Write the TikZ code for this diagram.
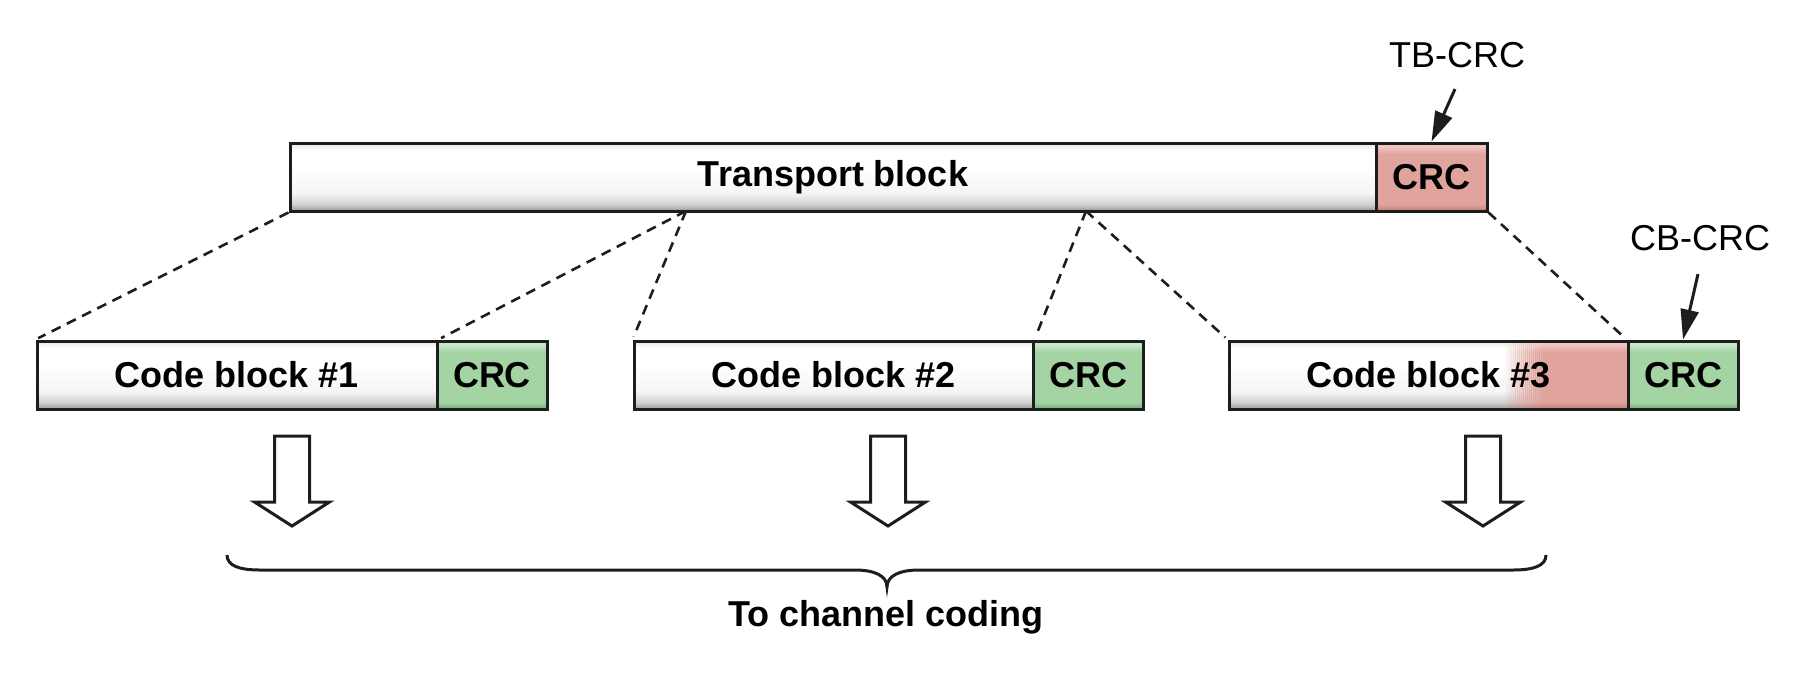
\documentclass[tikz,border=0pt]{standalone}
\usepackage{fontspec}
\setmainfont{Liberation Sans}
\usetikzlibrary{arrows.meta,calc}
\definecolor{gmid}{RGB}{164,211,164}
\definecolor{gdark}{RGB}{118,165,118}
\definecolor{glight}{RGB}{200,232,200}
\definecolor{pmid}{RGB}{224,164,157}
\definecolor{pdark}{RGB}{192,124,118}
\definecolor{plight}{RGB}{240,198,192}
\definecolor{edge}{RGB}{28,30,30}
\pgfdeclareverticalshading{wbev}{100bp}{color(0bp)=(black!40); color(25bp)=(black!40); color(30bp)=(black!18); color(38bp)=(black!4); color(58bp)=(white); color(70bp)=(white); color(75bp)=(black!10); color(100bp)=(black!10)}
\pgfdeclareverticalshading{gbev}{100bp}{color(0bp)=(gdark); color(25bp)=(gdark); color(30bp)=(gmid); color(67bp)=(gmid); color(72bp)=(glight); color(75bp)=(glight); color(100bp)=(glight)}
\pgfdeclareverticalshading{pbev}{100bp}{color(0bp)=(pdark); color(25bp)=(pdark); color(30bp)=(pmid); color(67bp)=(pmid); color(72bp)=(plight); color(75bp)=(plight); color(100bp)=(plight)}
\tikzset{
  boxline/.style={draw=edge, line width=3pt},
  wbox/.style={boxline, shading=wbev, minimum height=68pt, inner sep=0pt, font=\bfseries\fontsize{36}{43}\selectfont},
  gbox/.style={wbox, shading=gbev},
  pbox/.style={wbox, shading=pbev},
  dashln/.style={draw=edge, line width=2.6pt, dash pattern=on 10pt off 7pt},
  lbl/.style={font=\fontsize{36}{43}\selectfont, inner sep=0pt},
  ptr/.style={draw=edge, line width=3pt, -{Triangle[length=30pt,width=18pt]}},
  blockarrow/.style={draw=edge, line width=3pt, fill=white, line join=miter},
  bracestyle/.style={draw=edge, line width=3pt},
}
\begin{document}
\begin{tikzpicture}[x=1pt,y=-1pt]
\useasboundingbox (0,0) rectangle (1811,673);
% top row
\node[wbox, minimum width=1086pt] (tb) at (833,177) {Transport block};
\node[pbox, minimum width=111pt] (tbcrc) at (1431.5,177) {CRC};
% code blocks
\node[wbox, minimum width=400pt] (cb1) at (237,375) {Code block \#1};
\node[gbox, minimum width=110pt] (cb1crc) at (492,375) {CRC};
\node[wbox, minimum width=399pt] (cb2) at (833.5,375) {Code block \#2};
\node[gbox, minimum width=110pt] (cb2crc) at (1088,375) {CRC};
\node[wbox, minimum width=399pt,
  path picture={
    \foreach \i in {0,...,19}{
      \shade[shading=pbev, opacity={(\i+1)/21}] ([xshift={-123pt+2*\i*1pt}]path picture bounding box.north east) rectangle ([xshift={-120.5pt+2*\i*1pt}]path picture bounding box.south east);
    }
    \shade[shading=pbev] ([xshift=-83pt]path picture bounding box.north east) rectangle (path picture bounding box.south east);
  }] (cb3) at (1428.5,375) {Code block \#3};
\node[gbox, minimum width=110pt] (cb3crc) at (1683,375) {CRC};
% dashed split lines
\coordinate (ap1) at (686,211);
\coordinate (ap2) at (1086,211);
\draw[dashln, shorten >=3pt] (tb.south west) -- (cb1.north west);
\draw[dashln, shorten >=3pt] (ap1) -- (cb1.north east);
\draw[dashln, shorten >=3pt] (ap1) -- (cb2.north west);
\draw[dashln, shorten >=3pt] (ap2) -- (cb2.north east);
\draw[dashln, shorten >=3pt] (ap2) -- (cb3.north west);
\draw[dashln, shorten >=3pt] (tbcrc.south east) -- (cb3crc.north west);
% CRC labels
\node[lbl] (tblab) at (1457,55) {TB-CRC};
\node[lbl] (cblab) at (1700,238) {CB-CRC};
\coordinate (tbs) at (1455,89);
\coordinate (cbs) at (1698,274);
\draw[ptr] (tbs) -- (tbcrc.north);
\draw[ptr] (cbs) -- (cb3crc.north);
% block arrows
\coordinate (ba1) at (292,436);
\coordinate (ba2) at (888,436);
\coordinate (ba3) at (1483,436);
\foreach \c in {ba1,ba2,ba3}{
  \draw[blockarrow] (\c) ++(-17.5,0) -- ++(35,0) -- ++(0,66) -- ++(20,0) -- ++(-37.5,24) -- ++(-37.5,-24) -- ++(20,0) -- cycle;
}
% brace
\draw[bracestyle] (227,555) .. controls (227,566) and (240,570) .. (260,570) -- (855,570) .. controls (875,570) and (887,576) .. (887,587) .. controls (887,576) and (899,570) .. (919,570) -- (1513,570) .. controls (1533,570) and (1546,566) .. (1546,555);
\node[font=\bfseries\fontsize{36}{43}\selectfont, inner sep=0pt] (tcc) at (886,617) {To channel coding};
\end{tikzpicture}
\end{document}
